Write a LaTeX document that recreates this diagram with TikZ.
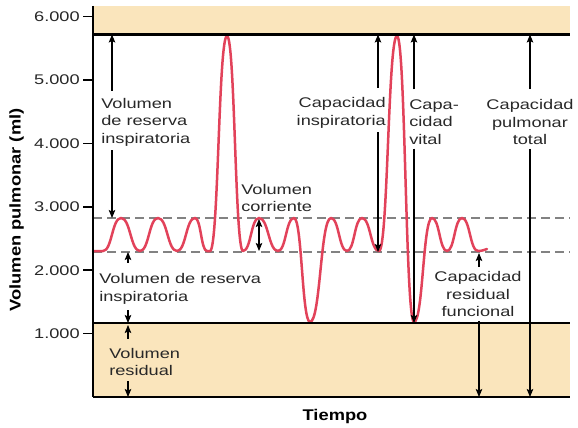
\documentclass[tikz,border=0pt]{standalone}
\usepackage{fontspec}
\setmainfont{Liberation Sans}
\usetikzlibrary{arrows.meta}
\definecolor{beige}{RGB}{250,229,188}
\definecolor{curve}{RGB}{226,66,90}
\definecolor{txt}{RGB}{40,40,40}
\definecolor{dash}{RGB}{130,130,130}
\tikzset{
  lbl/.style={font=\fontsize{14}{17.5}\selectfont, text=txt, inner sep=0pt, xscale=1.3},
  ticklbl/.style={font=\fontsize{14}{17}\selectfont, text=txt, inner sep=0pt, xscale=1.3, anchor=east},
  axlbl/.style={font=\bfseries\fontsize{15.5}{17}\selectfont, text=black, inner sep=0pt},
  arr/.style={-{Stealth[length=8pt,width=6.5pt,inset=1.5pt]}, line width=1.1pt, draw=black},
  dashline/.style={draw=dash, line width=1.1pt, dash pattern=on 9pt off 5pt},
  thickline/.style={draw=black, line width=2.8pt},
}
\begin{document}
\begin{tikzpicture}[x=1pt,y=-1pt]
\useasboundingbox[fill=white] (0,0) rectangle (578,428);
% beige areas
\fill[beige] (93,6) rectangle (570,34);
\fill[beige] (93,323) rectangle (570,397);
% dashed reference lines
\coordinate (dU0) at (93,218); \coordinate (dU1) at (570,218);
\coordinate (dL0) at (93,252); \coordinate (dL1) at (570,252);
\draw[dashline] (dU0) -- (dU1);
\draw[dashline] (dL0) -- (dL1);
% curve
\draw[curve, line width=2.5pt, line join=round, line cap=round]
 (93,251) -- (103,251)
 .. controls (112,251) and (112,218) .. (121,218)
 .. controls (130.5,218) and (130.5,251) .. (140,251)
 .. controls (149,251) and (149,218) .. (158,218)
 .. controls (167.5,218) and (167.5,251) .. (177,251)
 .. controls (186,251) and (186,218) .. (195,218)
 .. controls (201,218) and (201,251) .. (207,251)
 -- (210,251)
 .. controls (218.5,251) and (218.5,36) .. (227,36)
 .. controls (235,36) and (235,251) .. (243,251)
 .. controls (251,251) and (251,218) .. (259,218)
 .. controls (268.5,218) and (268.5,251) .. (278,251)
 .. controls (286,251) and (286,218) .. (294,218)
 .. controls (302,218) and (302,322) .. (310,322)
 .. controls (320.5,322) and (320.5,218) .. (331,218)
 .. controls (339,218) and (339,251) .. (347,251)
 .. controls (354.5,251) and (354.5,218) .. (362,218)
 .. controls (370.5,218) and (370.5,251) .. (379,251)
 .. controls (388,251) and (388,36) .. (397,36)
 .. controls (405.5,36) and (405.5,322) .. (414,322)
 .. controls (423,322) and (423,218) .. (432,218)
 .. controls (439.5,218) and (439.5,251) .. (447,251)
 .. controls (454.5,251) and (454.5,218) .. (462,218)
 .. controls (470,218) and (470,251) .. (478,251)
 .. controls (482,251) and (484,250) .. (487,249);
% black boundary lines
\coordinate (tl0) at (93,34.5); \coordinate (tl1) at (570,34.5);
\coordinate (ml0) at (93,323); \coordinate (ml1) at (570,323);
\coordinate (bl0) at (93,397); \coordinate (bl1) at (570,397);
\coordinate (ax0) at (93,6);
\draw[thickline] (tl0) -- (tl1);
\draw[thickline] (ml0) -- (ml1);
\draw[black, line width=1.5pt] (bl0) -- (bl1);
\draw[black, line width=2pt] (ax0) -- (bl0);
% ticks and tick labels
\foreach \v/\t in {1/1.000,2/2.000,3/3.000,4/4.000,5/5.000,6/6.000}{
  \coordinate (tk\v) at (93,397-63.4*\v);
  \draw[black, line width=1.5pt] (tk\v) -- ++(-10,0) coordinate (tke\v);
  \node[ticklbl] (tn\v) at ([xshift=-3pt]tke\v) {\t};
}
% axis labels
\node[axlbl, rotate=90, xscale=1.18] (ylab) at (16.5,210) {Volumen pulmonar (ml)};
\node[axlbl, xscale=1.18] (xlab) at (335,416) {Tiempo};
% text labels
\node[lbl, anchor=west, align=left] (n1) at (101,122) {Volumen\\de reserva\\inspiratoria};
\node[lbl, anchor=west, align=left] (n2) at (241,198) {Volumen\\corriente};
\node[lbl, anchor=west, align=left] (n3) at (99,289) {Volumen de reserva\\inspiratoria};
\node[lbl, anchor=west, align=left] (n4) at (109,362) {Volumen\\residual};
\node[lbl, anchor=east, align=right] (n5) at (386,113) {Capacidad\\inspiratoria};
\node[lbl, anchor=west, align=left] (n6) at (409,122) {Capa-\\cidad\\vital};
\node[lbl, align=center] (n7) at (530,122) {Capacidad\\pulmonar\\total};
\node[lbl, align=center] (n8) at (478,294) {Capacidad\\residual\\funcional};
% arrow x positions
\coordinate (xa1) at (112,0);
\coordinate (xa2) at (259,0);
\coordinate (xa3) at (128,0);
\coordinate (xa5) at (378,0);
\coordinate (xa6) at (414,0);
\coordinate (xa7) at (530,0);
\coordinate (xa8) at (479,0);
% arrows
\draw[arr] ([yshift=7pt]n1.north -| xa1) -- (xa1 |- tl0);
\draw[arr] ([yshift=-4pt]n1.south -| xa1) -- (xa1 |- dU0);
\draw[arr, {Stealth[length=8pt,width=6.5pt,inset=1.5pt]}-{Stealth[length=8pt,width=6.5pt,inset=1.5pt]}] ([yshift=-1pt]xa2 |- dU0) -- ([yshift=1pt]xa2 |- dL0);
\draw[arr] ([yshift=11pt]n3.north -| xa3) -- (xa3 |- dL0);
\draw[arr] ([yshift=-6pt]n3.south -| xa3) -- (xa3 |- ml0);
\draw[arr] ([yshift=9pt]n4.north -| xa3) -- ([yshift=-2pt]xa3 |- ml0);
\draw[arr] ([yshift=-5pt]n4.south -| xa3) -- (xa3 |- bl0);
\draw[arr] ([yshift=10pt]n5.north -| xa5) -- (xa5 |- tl0);
\draw[arr] ([yshift=-4pt]n5.south -| xa5) -- (xa5 |- dL0);
\draw[arr] ([yshift=10pt]n6.north -| xa6) -- (xa6 |- tl0);
\draw[arr] ([yshift=-4pt]n6.south -| xa6) -- (xa6 |- ml0);
\draw[arr] ([yshift=10pt]n7.north -| xa7) -- (xa7 |- tl0);
\draw[arr] ([yshift=-4pt]n7.south -| xa7) -- (xa7 |- bl0);
\draw[arr] ([yshift=4pt]n8.north -| xa8) -- ([yshift=-1pt]xa8 |- dL0);
\draw[arr] ([yshift=-4pt]n8.south -| xa8) -- (xa8 |- bl0);
\end{tikzpicture}
\end{document}
